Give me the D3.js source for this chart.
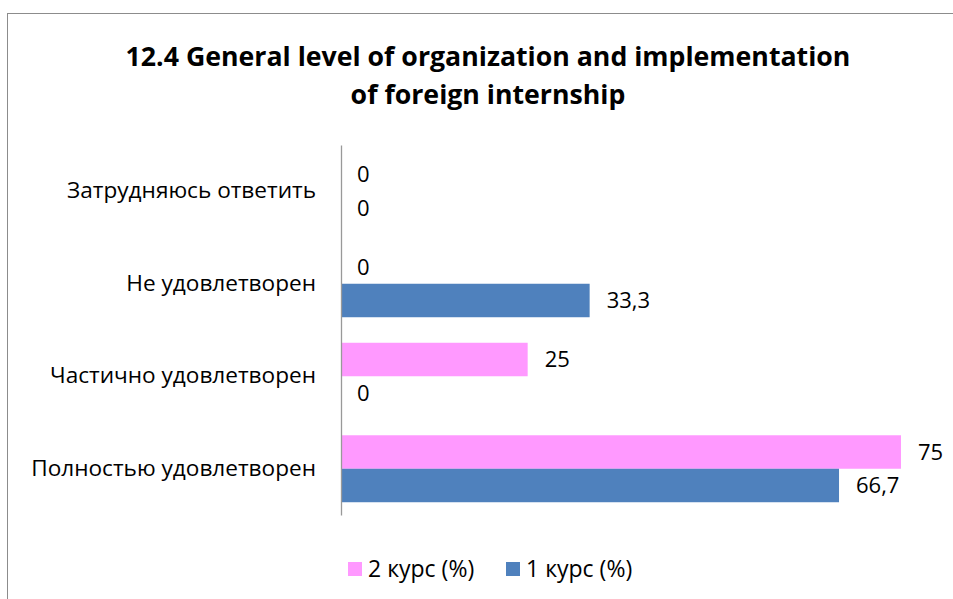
<!DOCTYPE html>
<html><head><meta charset="utf-8">
<script src="https://cdn.jsdelivr.net/npm/d3@7"></script>
<style>body{margin:0;background:#fff;} svg{display:block;}</style>
</head><body>
<svg id="c" width="953" height="599"></svg>
<script>
const categories = ["Затрудняюсь ответить","Не удовлетворен","Частично удовлетворен","Полностью удовлетворен"];
const seriesNames = ["2 курс (%)","1 курс (%)"];
const values2 = [0, 0, 25, 75];
const values1 = [0, 33.3, 0, 66.7];
const valueLabels2 = ["0","0","25","75"];
const valueLabels1 = ["0","33,3","0","66,7"];
const titleLines = ["12.4 General level of organization and implementation","of foreign internship"];

const colors = ["#ff99ff","#4f81bd"];
const font = "'Open Sans','Noto Sans',sans-serif";
const svg = d3.select("#c");

// frame
svg.append("rect").attr("x",7.5).attr("y",13.5).attr("width",1000).attr("height",700)
  .attr("fill","none").attr("stroke","#8c8c8c").attr("stroke-width",1);

// title
const t = svg.append("g");
const titleY = [66, 104];
titleLines.forEach((s,i)=>{
  t.append("text").attr("x",488).attr("y",titleY[i]).attr("text-anchor","middle")
   .attr("font-family",font).attr("font-weight","bold").attr("font-size",25)
   .attr("fill","#000").text(s);
});
const t0 = t.select("text").node();
const w0 = t0.getComputedTextLength();
const fs = 25*725/w0;
t.selectAll("text").attr("font-size",Math.min(fs,29));

const x = d3.scaleLinear().domain([0,75]).range([341,901]);
const y = d3.scaleBand().domain(categories).range([145,515]).paddingInner(0.276).paddingOuter(0.138);

const data = [values2, values1];
const labels = [valueLabels2, valueLabels1];
const g = svg.append("g");
data.forEach((vals,si)=>{
  g.selectAll(".b"+si).data(categories).enter().append("rect")
    .attr("x",x(0)).attr("y",d=>y(d)+si*y.bandwidth()/2)
    .attr("width",(d,i)=>x(vals[i])-x(0)).attr("height",y.bandwidth()/2)
    .attr("fill",colors[si]);
  g.selectAll(".l"+si).data(categories).enter().append("text")
    .attr("x",(d,i)=>x(vals[i])+(vals[i]>0?17:16))
    .attr("y",d=>y(d)+si*y.bandwidth()/2+y.bandwidth()/4)
    .attr("dy","0.35em")
    .attr("font-family",font).attr("font-size",22).attr("fill","#000")
    .text((d,i)=>labels[si][i]);
});

// axis
const ax = svg.append("g").attr("transform",`translate(${x(0)},0)`)
  .call(d3.axisLeft(y).tickSize(0).tickPadding(25));
ax.select(".domain").attr("stroke","#999").attr("stroke-width",1.3);
ax.selectAll("text").attr("font-family",font).attr("font-size",22.6).attr("fill","#000");

// legend
const leg = svg.append("g");
const legX = [348, 506];
seriesNames.forEach((s,i)=>{
  leg.append("rect").attr("x",legX[i]).attr("y",562).attr("width",14).attr("height",14).attr("fill",colors[i]);
  leg.append("text").attr("x",legX[i]+20).attr("y",569).attr("dy","0.35em")
    .attr("font-family",font).attr("font-size",23).attr("fill","#000").text(s);
});
</script>
</body></html>
